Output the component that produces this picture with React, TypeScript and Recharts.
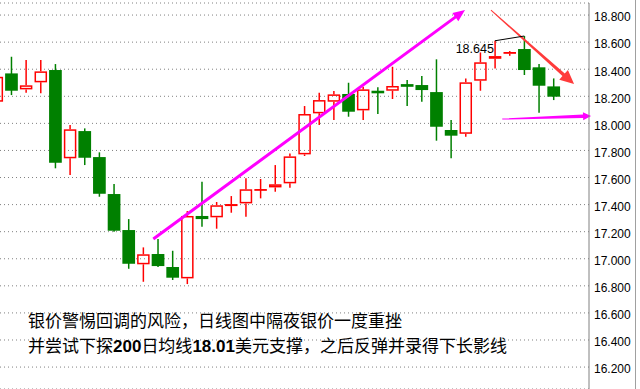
import React from 'react';
import { ComposedChart, Bar, XAxis, YAxis, CartesianGrid, ReferenceLine } from 'recharts';

// Daily silver candles (left → right), index 0 is partially cut off at the left edge
const opens = [18.16, 18.369, 18.251, 18.303, 18.394, 17.742, 17.943, 17.751, 17.478, 17.212, 16.959, 17.035, 16.939, 16.855, 17.316, 17.306, 17.389, 17.409, 17.51, 17.527, 17.557, 17.771, 18.074, 18.16, 18.217, 18.096, 18.241, 18.241, 18.29, 18.283, 18.231, 17.951, 17.923, 18.315, 18.477, 18.514, 18.549, 18.414, 18.273];
const highs = [18.4, 18.492, 18.468, 18.468, 18.438, 17.988, 17.963, 17.786, 17.552, 17.293, 17.084, 17.146, 17.059, 17.352, 17.569, 17.419, 17.463, 17.594, 17.589, 17.692, 17.778, 18.128, 18.226, 18.239, 18.3, 18.27, 18.266, 18.418, 18.32, 18.35, 18.473, 18.025, 18.332, 18.524, 18.61, 18.534, 18.645, 18.438, 18.332];
const lows = [18.12, 18.209, 18.226, 18.222, 17.668, 17.618, 17.692, 17.458, 17.2, 16.926, 16.83, 16.939, 16.843, 16.813, 17.236, 17.222, 17.34, 17.31, 17.446, 17.495, 17.525, 17.759, 17.988, 18.025, 18.049, 18.025, 18.069, 18.18, 18.128, 18.16, 17.872, 17.742, 17.901, 18.241, 18.406, 18.499, 18.357, 18.078, 18.172];
const closes = [18.344, 18.241, 18.281, 18.384, 17.709, 17.956, 17.746, 17.48, 17.207, 16.963, 17.033, 16.946, 16.86, 17.316, 17.293, 17.395, 17.404, 17.513, 17.515, 17.55, 17.756, 18.069, 18.172, 18.214, 18.086, 18.251, 18.222, 18.276, 18.27, 18.246, 17.975, 17.909, 18.303, 18.451, 18.497, 18.527, 18.394, 18.278, 18.197];

const yTicks = [16.2, 16.4, 16.6, 16.8, 17.0, 17.2, 17.4, 17.6, 17.8, 18.0, 18.2, 18.4, 18.6, 18.8];
const X_DOMAIN: [number, number] = [0.229, 40.42];
const Y_DOMAIN: [number, number] = [16.038, 18.889];

// annotations (bar index, price)
const riseArrow = [{ x: 10.69, y: 17.146 }, { x: 31.96, y: 18.837 }];
const fallArrow = [{ x: 33.73, y: 18.837 }, { x: 39.4, y: 18.29 }];
const supportArrow = [{ x: 34.5, y: 18.032 }, { x: 40.56, y: 18.054 }];
const peakLink = [{ x: 34, y: 18.61 }, { x: 36, y: 18.645 }];
const peakLabel = '18.645';

const noteLine1 = '银价警惕回调的风险，日线图中隔夜银价一度重挫';
const noteLine2 = ['并尝试下探', '200', '日均线', '18.01', '美元支撑，之后反弹并录得下长影线'];

const RED = '#ff0000';
const GREEN = '#008000';
const MAGENTA = '#ff00ff';

const data = opens.map((o, i) => ({ i, open: o, high: highs[i], low: lows[i], close: closes[i] }));

const Candle = (props: any) => {
  const { x, y, width, height, payload } = props;
  if (!payload || height == null) return null;
  const { open, close, high, low } = payload;
  const cx = x + width / 2;
  const k = height / (high - low);
  const py = (v: number) => y + (high - v) * k;
  const top = py(Math.max(open, close));
  const bot = py(Math.min(open, close));
  if (close >= open) {
    return (
      <g>
        <line x1={cx} x2={cx} y1={y} y2={top} stroke={RED} strokeWidth={1.5} />
        <line x1={cx} x2={cx} y1={bot} y2={y + height} stroke={RED} strokeWidth={1.5} />
        <rect x={cx - 5.5} y={top + 0.75} width={11} height={Math.max(bot - top - 1.5, 0.3)} fill="none" stroke={RED} strokeWidth={1.5} />
      </g>
    );
  }
  return (
    <g>
      <line x1={cx} x2={cx} y1={y} y2={y + height} stroke={GREEN} strokeWidth={1.5} />
      <rect x={cx - 6.35} y={top} width={12.7} height={Math.max(bot - top, 1.5)} fill={GREEN} />
    </g>
  );
};

const makeArrow = (color: string, w0: number, w1: number, headLen: number, headHalf: number) => (p: any) => {
  const { x1, y1, x2, y2 } = p;
  const dx = x2 - x1;
  const dy = y2 - y1;
  const len = Math.sqrt(dx * dx + dy * dy) || 1;
  const ux = dx / len;
  const uy = dy / len;
  const nx = -uy;
  const ny = ux;
  const bx = x2 - ux * headLen;
  const by = y2 - uy * headLen;
  const pts = [
    [x1 + nx * w0 / 2, y1 + ny * w0 / 2],
    [bx + nx * w1 / 2, by + ny * w1 / 2],
    [bx + nx * headHalf, by + ny * headHalf],
    [x2, y2],
    [bx - nx * headHalf, by - ny * headHalf],
    [bx - nx * w1 / 2, by - ny * w1 / 2],
    [x1 - nx * w0 / 2, y1 - ny * w0 / 2],
  ];
  return <polygon points={pts.map((q) => q.join(',')).join(' ')} fill={color} />;
};

const PeakShape = (p: any) => {
  const { x1, y1, x2, y2 } = p;
  return (
    <g>
      <line x1={x1} y1={y1} x2={x2} y2={y2} stroke="#000" strokeWidth={1} />
      <text x={x1 - 1} y={y1 + 12.5} textAnchor="end" fontSize={12.5} fontFamily="'Liberation Sans', Arial, sans-serif" fill="#000">
        {peakLabel}
      </text>
    </g>
  );
};

const YTick = (props: any) => {
  const { x, y, payload } = props;
  return (
    <text x={x} y={y + 2} dy="0.36em" textAnchor="start" fontSize={12} fontFamily="'Liberation Sans', Arial, sans-serif" fill="#000">
      {Number(payload.value).toFixed(3)}
    </text>
  );
};

const digitStyle: React.CSSProperties = { fontFamily: "'Liberation Sans', Arial, sans-serif", fontWeight: 700 };

export default function App() {
  return (
    <div style={{ position: 'relative', width: 640, height: 389, background: '#fff', overflow: 'hidden' }}>
      <style>{'body{margin:0;background:#fff}'}</style>
      <ComposedChart width={640} height={389} data={data} margin={{ top: 3, right: 0, bottom: 0, left: 0 }}>
        <CartesianGrid horizontal vertical={false} stroke="#808080" strokeDasharray="1 3" />
        <XAxis
          type="number"
          dataKey="i"
          domain={X_DOMAIN}
          allowDataOverflow
          orientation="top"
          height={0}
          tick={false}
          tickLine={false}
          axisLine={{ stroke: '#808080' }}
        />
        <YAxis
          type="number"
          orientation="right"
          domain={Y_DOMAIN}
          allowDataOverflow
          ticks={yTicks}
          interval={0}
          width={51}
          tickLine={false}
          tickSize={3}
          tickMargin={2}
          axisLine={{ stroke: '#808080' }}
          tick={<YTick />}
        />
        <Bar dataKey={(d: any) => [d.low, d.high]} barSize={13} shape={<Candle />} isAnimationActive={false} />
        <ReferenceLine segment={riseArrow} ifOverflow="visible" shape={makeArrow(MAGENTA, 3, 3, 12, 5)} />
        <ReferenceLine segment={fallArrow} ifOverflow="visible" shape={makeArrow('#ff3b3b', 1, 3.5, 14, 6.5)} />
        <ReferenceLine segment={supportArrow} ifOverflow="visible" shape={makeArrow(MAGENTA, 1, 3.5, 8, 4)} />
        <ReferenceLine segment={peakLink} ifOverflow="visible" shape={PeakShape} />
      </ComposedChart>
      <div style={{ position: 'absolute', left: 635, top: 0, width: 1, height: 389, background: '#a0a0a0' }} />
      <div
        style={{
          position: 'absolute',
          left: 28,
          top: 307,
          fontFamily: '"Noto Sans CJK SC", sans-serif',
          fontSize: 17,
          lineHeight: '25px',
          color: '#000',
          whiteSpace: 'nowrap',
        }}
      >
        <div>{noteLine1}</div>
        <div>
          {noteLine2[0]}
          <span style={digitStyle}>{noteLine2[1]}</span>
          {noteLine2[2]}
          <span style={digitStyle}>{noteLine2[3]}</span>
          {noteLine2[4]}
        </div>
      </div>
    </div>
  );
}
